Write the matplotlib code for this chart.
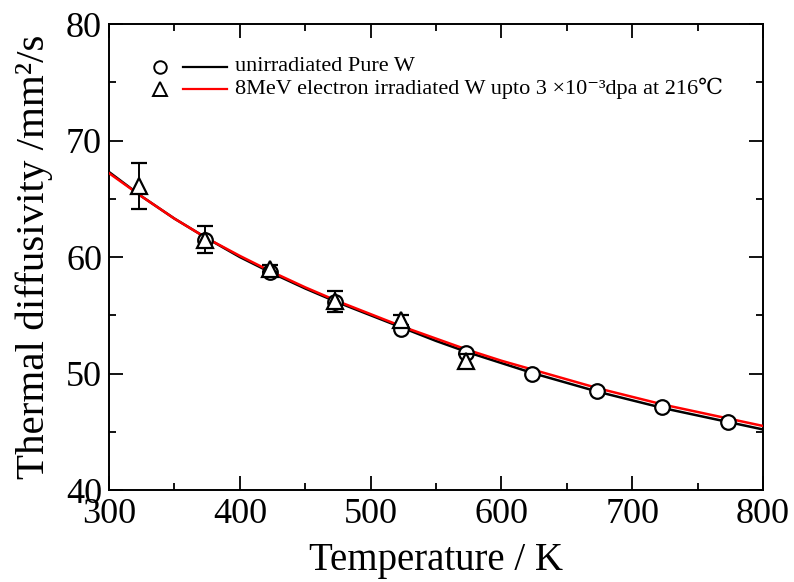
import matplotlib
matplotlib.use("Agg")
import matplotlib.pyplot as plt
from matplotlib.ticker import MultipleLocator

plt.rcParams["font.family"] = ["Liberation Serif", "DejaVu Serif", "Noto Sans CJK JP"]

# ---- data -------------------------------------------------------------
temp_unirr = [373, 423, 473, 523, 573, 623, 673, 723, 773]
diff_unirr = [61.5, 58.7, 56.1, 53.8, 51.8, 50.0, 48.5, 47.1, 45.8]

temp_irr = [323, 373, 423, 473, 523, 573]
diff_irr = [66.1, 61.5, 59.0, 56.2, 54.6, 51.1]
err_irr = [2.0, 1.15, 0.3, 0.9, 0.4, 0.6]

fit_temp = [300, 325, 350, 375, 400, 425, 450, 475, 500, 525, 550,
            575, 600, 625, 650, 675, 700, 725, 750, 775, 800]
fit_unirr = [67.3, 65.2, 63.3, 61.6, 60.0, 58.6, 57.3, 56.1, 55.0, 53.9, 52.8,
             51.8, 50.9, 50.0, 49.2, 48.4, 47.7, 47.0, 46.4, 45.8, 45.2]
fit_irr = [67.2, 65.2, 63.3, 61.6, 60.1, 58.7, 57.4, 56.2, 55.1, 54.0, 53.0,
           52.0, 51.1, 50.3, 49.5, 48.7, 48.0, 47.3, 46.7, 46.1, 45.5]

label_unirr = "unirradiated Pure W"
label_irr = "8MeV electron irradiated W upto 3 \u00d710\u207b\u00b3dpa at 216\u2103"

# -----------------------------------------------------------------------
fig = plt.figure(figsize=(7.94, 5.82), dpi=100)
ax = fig.add_axes([0.1373, 0.158, 0.8237, 0.8007])

ax.plot(fit_temp, fit_unirr, color="black", lw=1.8, zorder=2)
ax.plot(fit_temp, fit_irr, color="red", lw=1.8, zorder=3)

ax.plot(temp_unirr, diff_unirr, "o", ms=10.5, mfc="white", mec="black",
        mew=1.6, zorder=4)
ax.errorbar(temp_irr, diff_irr, yerr=err_irr, fmt="^", ms=12, mfc="white",
            mec="black", mew=1.6, ecolor="black", elinewidth=1.4, capsize=6,
            capthick=1.4, zorder=5)

ax.set_xlim(300, 800)
ax.set_ylim(40, 80)
ax.xaxis.set_major_locator(MultipleLocator(100))
ax.xaxis.set_minor_locator(MultipleLocator(50))
ax.yaxis.set_major_locator(MultipleLocator(10))
ax.yaxis.set_minor_locator(MultipleLocator(5))
ax.tick_params(which="both", direction="in", top=True, right=True, width=1.3)
ax.tick_params(which="major", length=10, labelsize=26)
ax.tick_params(axis="x", which="major", pad=6)
ax.tick_params(axis="y", which="major", pad=5)
ax.tick_params(which="minor", length=5)
for s in ax.spines.values():
    s.set_linewidth(1.4)

ax.set_xlabel("Temperature / K", fontsize=28, labelpad=8)
ax.set_ylabel("Thermal diffusivity /mm\u00b2/s", fontsize=29.5, labelpad=9)

# legend drawn by hand to match the original layout
for i, (mk, col, lab) in enumerate([("o", "black", label_unirr),
                                    ("^", "red", label_irr)]):
    yy = 0.908 - i * 0.047
    ax.plot([0.078], [yy], mk, ms=9 if mk == "o" else 10, mfc="white",
            mec="black", mew=1.4, transform=ax.transAxes, clip_on=False)
    ax.plot([0.113, 0.180], [yy, yy], color=col, lw=1.6,
            transform=ax.transAxes)
    ax.text(0.192, yy, lab, fontsize=16, va="center", ha="left",
            transform=ax.transAxes)

fig.savefig("out.png", dpi=100)
